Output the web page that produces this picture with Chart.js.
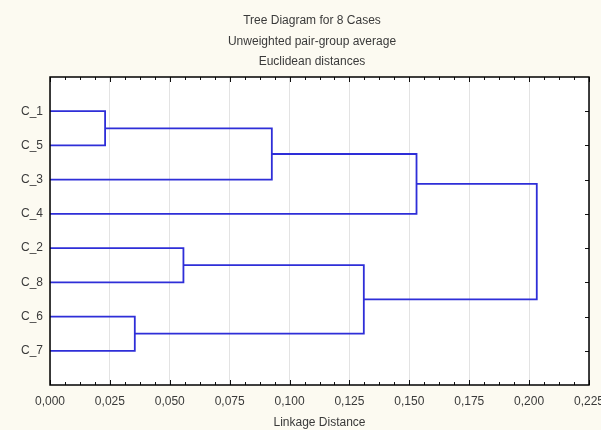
<!DOCTYPE html>
<html>
<head>
<meta charset="utf-8">
<script src="https://cdn.jsdelivr.net/npm/chart.js@4/dist/chart.umd.min.js"></script>
<style>
  html, body { margin: 0; padding: 0; background: #fcfaf1; }
  #wrap { width: 601px; height: 430px; }
</style>
</head>
<body>
<div id="wrap"><canvas id="treeChart"></canvas></div>
<script>
// Leaf order top to bottom
const leafLabels = ['C_1', 'C_5', 'C_3', 'C_4', 'C_2', 'C_8', 'C_6', 'C_7'];
// Merges: node ids 0-7 are leaves, each merge creates node 8, 9, ...
const mergeLeft   = [0, 8, 9, 4, 6, 11, 10];
const mergeRight  = [1, 2, 3, 5, 7, 12, 13];
const mergeHeight = [0.023, 0.0926, 0.153, 0.0557, 0.0354, 0.131, 0.2032];
const xTicks = [0, 0.025, 0.05, 0.075, 0.1, 0.125, 0.15, 0.175, 0.2, 0.225];
const titleLines = ['Tree Diagram for 8 Cases', 'Unweighted pair-group average', 'Euclidean distances'];

const FONT = "'Liberation Sans', Arial, sans-serif";
const LINE_COLOR = '#2e2ed8';
const TEXT_COLOR = '#3a3a3a';

// Build the U-shaped links from the merge table
const nodePos = leafLabels.map((_, i) => i + 1);
const nodeHeight = leafLabels.map(() => 0);
const linkSets = [];
mergeLeft.forEach(function(a, k) {
    const b = mergeRight[k];
    const h = mergeHeight[k];
    linkSets.push({
        data: [
            { x: nodeHeight[a], y: nodePos[a] },
            { x: h, y: nodePos[a] },
            { x: h, y: nodePos[b] },
            { x: nodeHeight[b], y: nodePos[b] }
        ],
        showLine: true,
        borderColor: LINE_COLOR,
        borderWidth: 1.8,
        pointRadius: 0,
        tension: 0
    });
    nodePos.push((nodePos[a] + nodePos[b]) / 2);
    nodeHeight.push(h);
});

// Background, titles, frame and inward tick marks
const frame = {
    id: 'frame',
    beforeDraw(chart) {
        const c = chart.ctx, a = chart.chartArea;
        c.save();
        c.fillStyle = '#fcfaf1';
        c.fillRect(0, 0, chart.width, chart.height);
        c.fillStyle = '#ffffff';
        c.fillRect(a.left, a.top, a.right - a.left, a.bottom - a.top);
        c.restore();
    },
    afterDraw(chart) {
        const c = chart.ctx, a = chart.chartArea;
        const xs = chart.scales.x, ys = chart.scales.y;
        c.save();
        c.fillStyle = TEXT_COLOR;
        c.font = '12px ' + FONT;
        c.textAlign = 'center';
        c.textBaseline = 'middle';
        titleLines.forEach(function(t, i) {
            c.fillText(t, 312, 21 + i * 20.5);
        });

        c.strokeStyle = '#111111';
        c.lineWidth = 1;
        c.beginPath();
        const step = xTicks[1] - xTicks[0];
        for (let v = 0; v <= xTicks[xTicks.length - 1] + 1e-9; v += step / 4) {
            const major = Math.abs(v / step - Math.round(v / step)) < 1e-6;
            const len = major ? 5 : 3;
            const px = Math.round(xs.getPixelForValue(v)) + 0.5;
            c.moveTo(px, a.bottom); c.lineTo(px, a.bottom - len);
            c.moveTo(px, a.top); c.lineTo(px, a.top + len);
        }
        leafLabels.forEach(function(_, i) {
            const py = Math.round(ys.getPixelForValue(i + 1)) + 0.5;
            c.moveTo(a.right, py); c.lineTo(a.right - 4, py);
        });
        c.stroke();

        c.strokeStyle = '#000000';
        c.lineWidth = 1.5;
        c.strokeRect(a.left, a.top, a.right - a.left, a.bottom - a.top);
        c.restore();
    }
};

new Chart(document.getElementById('treeChart'), {
    type: 'scatter',
    data: { datasets: linkSets },
    options: {
        responsive: true,
        maintainAspectRatio: false,
        animation: false,
        layout: { padding: { top: 77, right: 12, left: 0, bottom: 0 } },
        plugins: {
            legend: { display: false },
            tooltip: { enabled: false }
        },
        scales: {
            x: {
                type: 'linear',
                min: xTicks[0],
                max: xTicks[xTicks.length - 1],
                afterBuildTicks: function(scale) {
                    scale.ticks = xTicks.map(v => ({ value: v }));
                },
                afterFit: function(scale) {
                    scale.height = 45;
                    scale.paddingLeft = 0;
                    scale.paddingRight = 0;
                },
                ticks: {
                    color: TEXT_COLOR,
                    font: { family: FONT, size: 12 },
                    padding: 9,
                    maxRotation: 0,
                    autoSkip: false,
                    callback: v => v.toFixed(3).replace('.', ',')
                },
                grid: { color: '#e3e3e3', lineWidth: 1, drawTicks: false },
                border: { display: false },
                title: {
                    display: true,
                    text: 'Linkage Distance',
                    color: TEXT_COLOR,
                    font: { family: FONT, size: 12 },
                    padding: { top: 4, bottom: 0 }
                }
            },
            y: {
                type: 'linear',
                reverse: true,
                min: 0,
                max: leafLabels.length + 1,
                afterBuildTicks: function(scale) {
                    scale.ticks = leafLabels.map((_, i) => ({ value: i + 1 }));
                },
                afterFit: function(scale) { scale.width = 50; },
                ticks: {
                    color: TEXT_COLOR,
                    font: { family: FONT, size: 12 },
                    padding: 7,
                    autoSkip: false,
                    callback: v => leafLabels[v - 1] || ''
                },
                grid: { display: false, drawTicks: false },
                border: { display: false }
            }
        }
    },
    plugins: [frame]
});
</script>
</body>
</html>
